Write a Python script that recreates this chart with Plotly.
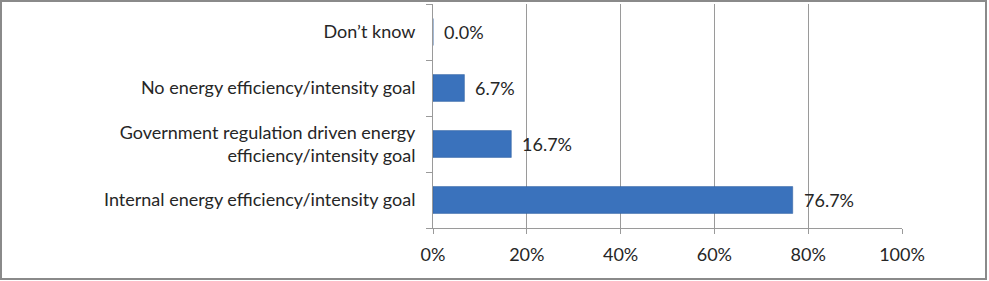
import plotly.graph_objects as go

categories = [
    "Internal energy efficiency/intensity goal",
    "Government regulation driven energy<br>efficiency/intensity goal",
    "No energy efficiency/intensity goal",
    "Don\u2019t know",
]
values = [76.7, 16.7, 6.7, 0.0]
x_ticks = [0, 20, 40, 60, 80, 100]
x_tick_labels = ["0%", "20%", "40%", "60%", "80%", "100%"]

W, H = 989, 281
ml, mr, mt, mb = 433, 87, 4, 53
pw, ph = W - ml - mr, H - mt - mb

font = dict(family="Lato, Carlito, Calibri, sans-serif", size=18, color="#262626")

fig = go.Figure()
fig.add_trace(go.Bar(
    x=values, y=categories, orientation="h",
    marker=dict(color="#3a72bc", line=dict(color="#2f5f9f", width=0.5)),
    width=0.48, hoverinfo="skip",
))
for v, c in zip(values, categories):
    fig.add_annotation(x=v, y=c, text=f"{v:.1f}%", showarrow=False,
                       xanchor="left", xshift=9, font=font)

def px2x(p):
    return (p - ml) / pw

def py2y(p):
    return 1 - (p - mt) / ph

# outer border
fig.add_shape(type="rect", xref="paper", yref="paper",
              x0=px2x(1), x1=px2x(W - 3), y0=py2y(1), y1=py2y(H - 2),
              line=dict(color="#8a8a8a", width=2), layer="below")

fig.update_layout(
    width=W, height=H,
    margin=dict(l=ml, r=mr, t=mt, b=mb),
    paper_bgcolor="white", plot_bgcolor="white",
    font=font, showlegend=False,
    xaxis=dict(range=[0, 100], tickvals=x_ticks, ticktext=x_tick_labels,
               showgrid=True, gridcolor="#9a9a9a", gridwidth=1,
               showline=True, linecolor="#9a9a9a", linewidth=1,
               ticks="outside", ticklen=5, tickcolor="#9a9a9a",
               ticklabelstandoff=5,
               zeroline=False, fixedrange=True),
    yaxis=dict(type="category", categoryorder="array", categoryarray=categories,
               showline=True, linecolor="#9a9a9a", linewidth=1,
               ticks="outside", ticklen=6, tickcolor="#9a9a9a",
               tickson="boundaries", showgrid=False,
               ticklabelstandoff=13, fixedrange=True),
)

fig.write_html("out.html")
